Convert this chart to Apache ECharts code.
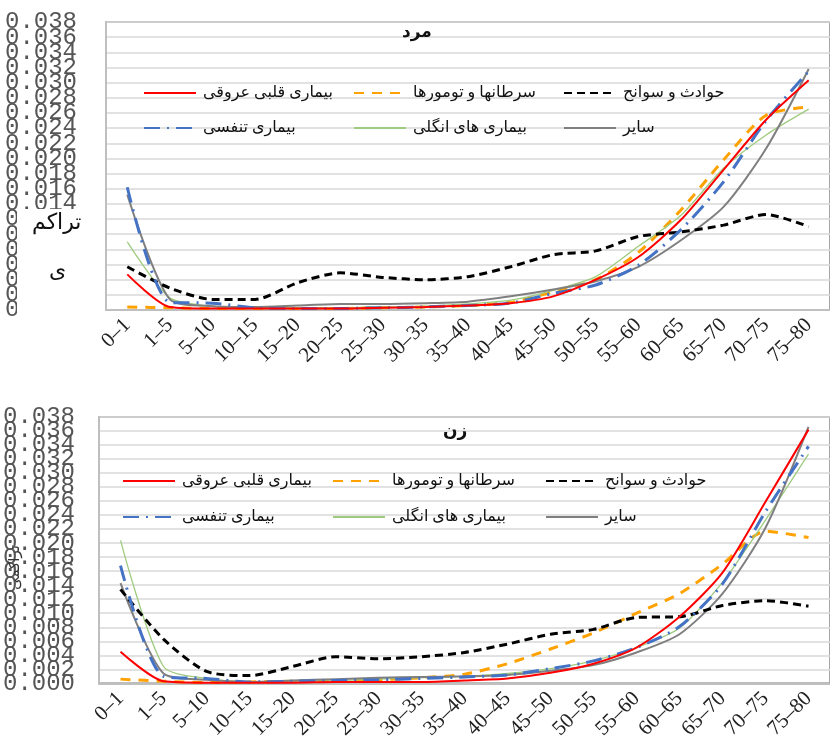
<!DOCTYPE html>
<html><head><meta charset="utf-8">
<script src="https://cdn.jsdelivr.net/npm/echarts@6/dist/echarts.min.js"></script>
<style>html,body{margin:0;padding:0;background:#fff}#c{width:830px;height:742px}</style>
</head><body><div id="c"></div>
<script>
const categories = ['0–1','1–5','5–10','10–15','15–20','20–25','25–30','30–35','35–40','40–45','45–50','50–55','55–60','60–65','65–70','70–75','75–80'];
const seriesNames = ['بیماری قلبی عروقی','سرطانها و تومورها','حوادث و سوانح','بیماری تنفسی','بیماری های انگلی','سایر'];
const panelTitles = ['مرد','زن'];
const axisTitle = 'تراکمی';
const yMin = 0, yMax = 0.038, yStep = 0.002;

// male (مرد)
const maleHeart       = [0.0047,0.0004,0.0002,0.0002,0.0002,0.0002,0.0003,0.0004,0.0006,0.0009,0.0018,0.0040,0.0070,0.0119,0.0185,0.0251,0.0303];
const maleCancer      = [0.0004,0.0003,0.0002,0.0002,0.0002,0.0002,0.0003,0.0004,0.0006,0.0010,0.0024,0.0040,0.0076,0.0132,0.0198,0.0257,0.0268];
const maleAccidents   = [0.0057,0.0029,0.0014,0.0014,0.0036,0.0049,0.0043,0.0040,0.0044,0.0057,0.0073,0.0078,0.0097,0.0103,0.0112,0.0126,0.0110];
const maleRespiratory = [0.0162,0.0010,0.0009,0.0003,0.0002,0.0002,0.0003,0.0004,0.0006,0.0009,0.0022,0.0033,0.0059,0.0106,0.0169,0.0250,0.0315];
const maleInfectious  = [0.0090,0.0016,0.0005,0.0003,0.0003,0.0003,0.0004,0.0005,0.0008,0.0013,0.0026,0.0044,0.0084,0.0125,0.0187,0.0231,0.0265];
const maleOther       = [0.0152,0.0014,0.0005,0.0004,0.0006,0.0008,0.0008,0.0009,0.0011,0.0018,0.0027,0.0038,0.0057,0.0092,0.0136,0.0213,0.0318];

// female (زن)
const femaleHeart       = [0.0045,0.0003,0.0001,0.0001,0.0001,0.0002,0.0002,0.0002,0.0004,0.0007,0.0015,0.0028,0.0051,0.0095,0.0158,0.0259,0.0362];
const femaleCancer      = [0.0006,0.0003,0.0001,0.0002,0.0003,0.0004,0.0005,0.0008,0.0013,0.0028,0.0049,0.0072,0.0100,0.0128,0.0170,0.0217,0.0208];
const femaleAccidents   = [0.0134,0.0063,0.0017,0.0011,0.0024,0.0038,0.0035,0.0038,0.0044,0.0056,0.0070,0.0077,0.0094,0.0095,0.0111,0.0118,0.0110];
const femaleRespiratory = [0.0168,0.0010,0.0007,0.0002,0.0003,0.0004,0.0005,0.0007,0.0009,0.0012,0.0021,0.0032,0.0051,0.0081,0.0142,0.0245,0.0338];
const femaleInfectious  = [0.0204,0.0024,0.0007,0.0002,0.0003,0.0004,0.0006,0.0008,0.0010,0.0014,0.0021,0.0032,0.0051,0.0079,0.0144,0.0233,0.0327];
const femaleOther       = [0.0143,0.0014,0.0005,0.0002,0.0004,0.0006,0.0008,0.0009,0.0010,0.0012,0.0018,0.0026,0.0044,0.0070,0.0128,0.0222,0.0366];

const maleData = [maleHeart, maleCancer, maleAccidents, maleRespiratory, maleInfectious, maleOther];
const femaleData = [femaleHeart, femaleCancer, femaleAccidents, femaleRespiratory, femaleInfectious, femaleOther];

const styles = [
  {color:'#ff0000', width:2, type:'solid'},
  {color:'#ffa200', width:3, type:[10,8]},
  {color:'#000000', width:3, type:[8,5]},
  {color:'#4472c4', width:3, type:[16,7,2,7]},
  {color:'#9fcb7f', width:1.3, type:'solid'},
  {color:'#7f7f7f', width:2, type:'solid'}
];

const arabicFont = "'Times New Roman','DejaVu Sans',serif";

const chart = echarts.init(document.getElementById('c'), null, {renderer:'canvas'});

const grids = [
  {left:106, top:22, width:734, height:288},
  {left:97, top:417, width:743, height:271}
];
const labelMargins = [29, 24];

const xAxes = grids.map((g,i)=>({
  type:'category', gridIndex:i, data:categories, boundaryGap:true,
  axisLine:{show:true, lineStyle:{color:'#bfbfbf', width:2}},
  axisTick:{show:false},
  axisLabel:{interval:0, rotate:45, margin:12, fontFamily:"'Liberation Serif',serif", fontSize:21, color:'#222', hideOverlap:false},
  splitLine:{show:false}
}));
const yLabel = (i)=>({margin:labelMargins[i], fontFamily:"'Liberation Mono',monospace", fontSize:24, lineHeight:10, color:'#555',
    hideOverlap:false, formatter:v=>v.toFixed(3)});
const yAxes = [];
grids.forEach((g,i)=>{
  // main axis: inner tick labels and gridlines
  yAxes.push({
    type:'value', gridIndex:i, min:yMin, max:yMax, interval:yStep, position:'left',
    axisLine:{show:true, lineStyle:{color:'#bfbfbf', width:2}},
    axisTick:{show:false},
    axisLabel:Object.assign(yLabel(i), {showMinLabel:false, showMaxLabel:false}),
    splitLine:{show:true, lineStyle:{color:'#d9d9d9', width:1.5}}
  });
  // companion axis: only the end labels (min and max)
  yAxes.push({
    type:'value', gridIndex:i, min:yMin, max:yMax, interval:yMax-yMin, position:'left', offset:0,
    axisLine:{show:false}, axisTick:{show:false}, splitLine:{show:false},
    axisLabel:Object.assign(yLabel(i), {showMinLabel:true, showMaxLabel:true})
  });
});

const series = [];
[maleData, femaleData].forEach((set, gi)=>{
  set.forEach((arr, si)=>{
    series.push({
      name: seriesNames[si], type:'line', xAxisIndex:gi, yAxisIndex:gi*2,
      data: arr, symbol:'none', smooth:0.25, color: styles[si].color,
      lineStyle:{color:styles[si].color, width:styles[si].width, type:styles[si].type},
      z: 2 + (si===0?5:si===3?4:si===2?3:1)
    });
  });
});

const legendCols = [[138,348,558],[117,327,540]];
const legendRows = [[88,123],[476,512]];
const legends = [];
[0,1].forEach(p=>{
  seriesNames.forEach((nm, si)=>{
    const col = si % 3, row = Math.floor(si/3);
    legends.push({
      data:[nm], left:legendCols[p][col], top:legendRows[p][row]-11,
      itemWidth:52, itemHeight:14, selectedMode:false,
      itemStyle:{opacity:0},
      textStyle:{fontFamily:arabicFont, fontSize:16, color:'#111', padding:[0,0,0,2], lineHeight:22}
    });
  });
});

chart.setOption({
  animation:false,
  backgroundColor:'#fff',
  grid: grids.map(g=>Object.assign({show:true, borderColor:'#a6a6a6', borderWidth:2, containLabel:false}, g)),
  xAxis:xAxes, yAxis:yAxes, series:series, legend:legends,
  graphic:[
    {type:'text', left:402, top:24, z:100, style:{text:panelTitles[0], font:"bold 17px "+arabicFont, fill:'#111'}},
    {type:'text', left:443, top:423, z:100, style:{text:panelTitles[1], font:"bold 17px "+arabicFont, fill:'#111'}},
    {type:'rect', shape:{x:17, y:209, width:66, height:110}, z:100, style:{fill:'#fff'}},
    {type:'text', left:32, top:212, z:101, style:{text:axisTitle.slice(0,5), font:"22px "+arabicFont, fill:'#111'}},
    {type:'text', left:49, top:260, z:101, style:{text:axisTitle.slice(5), font:"22px "+arabicFont, fill:'#111'}},
    {type:'text', x:8, y:590, rotation:Math.PI/2, z:101, style:{text:axisTitle, font:"15px "+arabicFont, fill:'#333'}}
  ]
});
</script></body></html>
